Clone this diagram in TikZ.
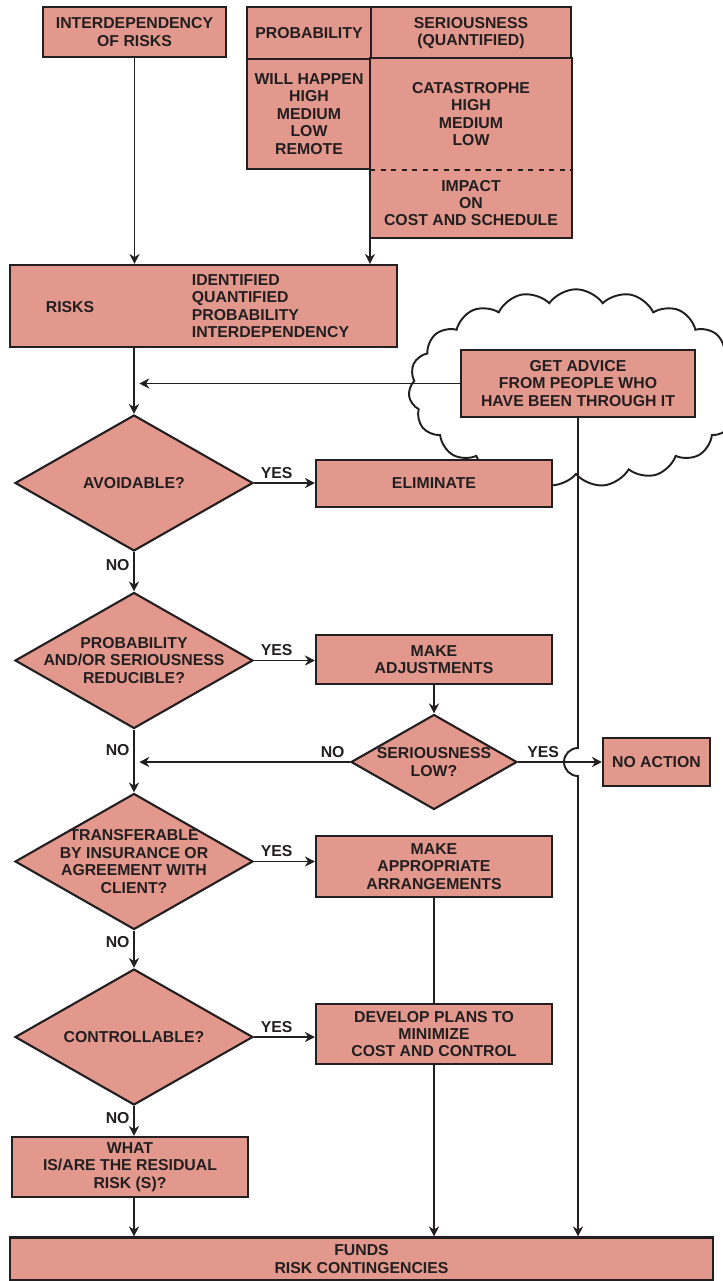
\documentclass[tikz,border=0pt]{standalone}
\usepackage{fontspec}
\setmainfont{Liberation Sans}
\usepackage{tikz}
\usetikzlibrary{arrows.meta,shapes.geometric,shapes.symbols,calc}
\definecolor{salmon}{HTML}{E2988C}
\definecolor{ink}{HTML}{231F20}
\tikzset{stepbox/.style={draw=ink,fill=salmon,line width=1.2pt,align=center,font=\fontsize{9}{9.9}\selectfont\bfseries,text=ink,inner sep=0pt}, query/.style={stepbox,diamond,aspect=1.75,inner sep=-6pt,minimum width=4.76cm,minimum height=2.72cm}, flow/.style={-{Stealth[length=2mm,width=2mm]},line width=1.1pt,draw=ink}, tag/.style={font=\fontsize{9}{9.9}\selectfont\bfseries,text=ink,inner sep=2pt}}

\begin{document}
\begin{tikzpicture}[x=0.02cm,y=-0.02cm]
\useasboundingbox (0,0) rectangle (723,1281);
% inputs
\node[stepbox,minimum width=3.66cm,minimum height=1cm] (interdep) at (134.5,32) {INTERDEPENDENCY\\OF RISKS};
\node[stepbox,minimum width=2.48cm,minimum height=1.04cm] (probhead) at (309,33) {PROBABILITY};
\node[stepbox,minimum width=4cm,minimum height=1.04cm] (serhead) at (471,33) {SERIOUSNESS\\(QUANTIFIED)};
\node[stepbox,minimum width=2.48cm,minimum height=2.2cm] (problist) at (309,114) {WILL HAPPEN\\HIGH\\MEDIUM\\LOW\\REMOTE};
\node[stepbox,draw=none,minimum width=4cm,minimum height=2.2cm] (serlist) at (471,114) {CATASTROPHE\\HIGH\\MEDIUM\\LOW};
\node[stepbox,draw=none,minimum width=4cm,minimum height=1.36cm] (impact) at (471,203) {IMPACT\\ON\\COST AND SCHEDULE};
\draw[ink,line width=1.2pt] (serlist.north west) rectangle (impact.south east);
\draw[ink,line width=1.2pt,dashed] (serlist.south west) -- (serlist.south east);
\node[stepbox,minimum width=7.74cm,minimum height=1.64cm] (risks) at (203.5,306) {};
\node[tag] (risktag) at (70,307) {RISKS};
\node[tag,anchor=west,align=left] (risklist) at (188,306) {IDENTIFIED\\QUANTIFIED\\PROBABILITY\\INTERDEPENDENCY};
% advice
\node[cloud,cloud puffs=19,cloud puff arc=110,draw=ink,fill=white,line width=1.1pt,minimum width=6.7cm,minimum height=3.95cm] (cloud) at (576,388) {};
\node[stepbox,minimum width=4.68cm,minimum height=1.34cm] (advice) at (578,383.5) {GET ADVICE\\FROM PEOPLE WHO\\HAVE BEEN THROUGH IT};
% decisions
\node[query] (avoid) at (134,483) {AVOIDABLE?};
\node[stepbox,minimum width=4.72cm,minimum height=0.94cm] (elim) at (434,483.5) {ELIMINATE};
\node[query] (reduce) at (134,660.5) {PROBABILITY\\AND/OR SERIOUSNESS\\REDUCIBLE?};
\node[stepbox,minimum width=4.72cm,minimum height=0.98cm] (adjust) at (434,659.5) {MAKE\\ADJUSTMENTS};
\node[query,minimum width=3.32cm,minimum height=1.9cm] (serlow) at (434,762) {SERIOUSNESS\\LOW?};
\node[stepbox,minimum width=2.14cm,minimum height=0.96cm] (noaction) at (656.5,762) {NO ACTION};
\node[query] (transfer) at (134,861.5) {TRANSFERABLE\\BY INSURANCE OR\\AGREEMENT WITH\\CLIENT?};
\node[stepbox,minimum width=4.72cm,minimum height=1.22cm] (arrange) at (434,866.5) {MAKE\\APPROPRIATE\\ARRANGEMENTS};
\node[query] (control) at (134,1037) {CONTROLLABLE?};
\node[stepbox,minimum width=4.72cm,minimum height=1.2cm] (develop) at (434,1034) {DEVELOP PLANS TO\\MINIMIZE\\COST AND CONTROL};
\node[stepbox,minimum width=4.72cm,minimum height=1.2cm] (residual) at (130,1167) {WHAT\\IS/ARE THE RESIDUAL\\RISK (S)?};
\node[stepbox,minimum width=14.06cm,minimum height=0.86cm] (funds) at (361.5,1259) {FUNDS\\RISK CONTINGENCIES};
% connectors
\draw[flow] (interdep) -- (interdep |- risks.north);
\draw[flow] (impact.south west) -- (impact.south west |- risks.north);
\draw[flow] (risks.south -| avoid.north) -- (avoid.north);
\draw[flow,shorten >=3pt] (advice.west) -- (advice.west -| avoid.north);
\draw[flow] (avoid.east) -- node[tag,above,pos=0.37] (yes1) {YES} (avoid.east -| elim.west);
\draw[flow] (avoid.south) -- node[tag,left,pos=0.33] (no1) {NO} (reduce.north);
\draw[flow] (reduce.east) -- node[tag,above,pos=0.37] (yes2) {YES} (reduce.east -| adjust.west);
\draw[flow] (adjust.south) -- (serlow.north);
\draw[flow,shorten >=3pt] (serlow.west) -- node[tag,above,pos=0.08] (no3) {NO} (serlow.west -| reduce.south);
\draw[flow] (reduce.south) -- node[tag,left,pos=0.32] (no2) {NO} (transfer.north);
\draw[flow] (serlow.east) -- node[tag,above,pos=0.3] (yes3) {YES} (noaction.west);
\coordinate (hop) at (advice.south |- serlow.east);
\draw[flow] (advice.south) -- ([yshift=0.28cm]hop) arc[start angle=90,end angle=270,radius=0.28cm] -- (hop |- funds.north);
\draw[flow] (transfer.east) -- node[tag,above,pos=0.37] (yes4) {YES} (transfer.east -| arrange.west);
\draw[ink,line width=1.1pt] (arrange.south) -- (develop.north);
\draw[flow] (transfer.south) -- node[tag,left,pos=0.3] (no4) {NO} (control.north);
\draw[flow] (control.east) -- node[tag,above,pos=0.37] (yes5) {YES} (control.east -| develop.west);
\draw[flow] (control.south) -- node[tag,left,pos=0.4] (no5) {NO} (control.south |- residual.north);
\draw[flow] (residual.south -| control.south) -- (control.south |- funds.north);
\draw[flow] (develop.south) -- (develop.south |- funds.north);
\end{tikzpicture}
\end{document}
